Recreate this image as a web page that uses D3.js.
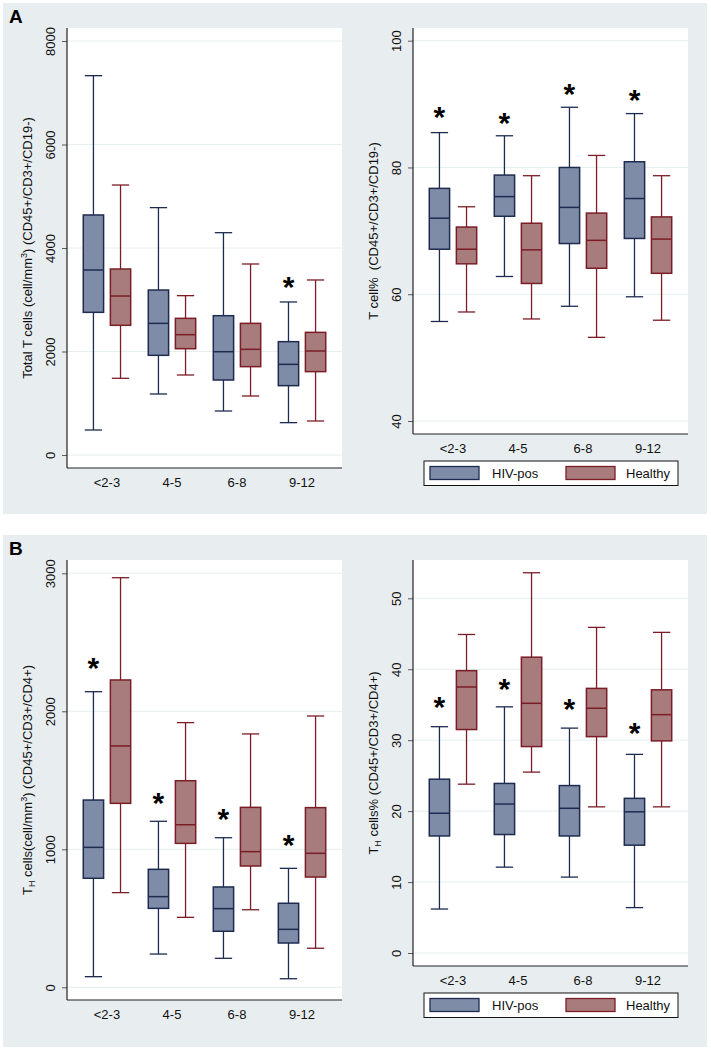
<!DOCTYPE html>
<html><head><meta charset="utf-8">
<script src="https://cdn.jsdelivr.net/npm/d3@7/dist/d3.min.js"></script>
<style>body{margin:0;background:#fff;} text{font-family:"Liberation Sans",Arial,sans-serif;}</style>
</head><body>
<svg id="chart" width="711" height="1050"></svg>
<script>
// ---------- data ----------
const categories = ["<2-3", "4-5", "6-8", "9-12"];
const groups = ["HIV-pos", "Healthy"];

// each entry: [lowerWhisker, Q1, median, Q3, upperWhisker]
const totalT_HIV     = [[483,2757,3575,4638,7330],[1179,1926,2544,3188,4780],[850,1449,1996,2692,4296],[625,1340,1752,2190,2957]];
const totalT_Healthy = [[1482,2506,3072,3594,5217],[1546,2054,2325,2641,3079],[1140,1707,2042,2544,3691],[657,1611,2010,2370,3382]];
const totalT_stars   = [null, null, null, 3324];

const pctT_HIV       = [[55.7,67.1,72.0,76.7,85.5],[62.8,72.3,75.4,78.8,85.0],[58.1,68.0,73.7,80.0,89.5],[59.6,68.8,75.1,80.9,88.5]];
const pctT_Healthy   = [[57.2,64.8,67.1,70.6,73.8],[56.1,61.7,67.0,71.2,78.7],[53.2,64.1,68.5,72.8,81.9],[55.9,63.3,68.7,72.2,78.7]];
const pctT_stars     = [88.7, 87.7, 92.3, 91.3];

const th_HIV         = [[77,790,1014,1357,2142],[241,572,657,855,1203],[210,406,570,727,1084],[62,321,420,609,862]];
const th_Healthy     = [[686,1333,1749,2227,2968],[507,1043,1178,1497,1918],[562,879,983,1304,1836],[283,799,971,1302,1966]];
const th_stars       = [2343, 1365, 1249, 1061];

const pctTH_HIV      = [[6.2,16.5,19.7,24.5,31.9],[12.1,16.7,21.0,23.9,34.7],[10.7,16.5,20.4,23.6,31.7],[6.4,15.2,19.9,21.8,28.0]];
const pctTH_Healthy  = [[23.8,31.5,37.5,39.8,44.9],[25.5,29.1,35.2,41.7,53.6],[20.6,30.5,34.5,37.3,45.9],[20.6,29.9,33.6,37.1,45.2]];
const pctTH_stars    = [35.3, 37.9, 35.1, 31.6];

const ticksTotalT = [0, 2000, 4000, 6000, 8000];
const ticksPctT   = [40, 60, 80, 100];
const ticksTH     = [0, 1000, 2000, 3000];
const ticksPctTH  = [0, 10, 20, 30, 40, 50];

// ---------- styles ----------
const fills   = {"HIV-pos": "#7f8ca7", "Healthy": "#a87b7d"};
const strokes = {"HIV-pos": "#1e2b50", "Healthy": "#7a1d26"};
const panelBg = "#e8edf0";
const gridCol = "#e6eef0";

const svg = d3.select("#chart");

// panel backgrounds
svg.append("rect").attr("x",3).attr("y",3).attr("width",704).attr("height",511).attr("fill",panelBg);
svg.append("rect").attr("x",3).attr("y",535).attr("width",704).attr("height",512).attr("fill",panelBg);
svg.append("text").attr("x",9).attr("y",23).attr("font-size",19).attr("font-weight","bold").text("A");
svg.append("text").attr("x",9).attr("y",555).attr("font-size",19).attr("font-weight","bold").text("B");

function drawPlot(cfg) {
  const g = svg.append("g");
  const {left, right, top, bottom} = cfg.area;
  g.append("rect").attr("x",left).attr("y",top).attr("width",right-left).attr("height",bottom-top).attr("fill","#fff");

  const y = d3.scaleLinear().domain(cfg.domain).range(cfg.yRange);
  const x = d3.scaleBand().domain(categories).range([left,right]).paddingInner(0).paddingOuter(0.115);
  const xi = d3.scaleBand().domain(groups).range([0, x.step()]).paddingInner(0).paddingOuter(0.2);
  const bw = xi.step()*0.75;
  const capW = xi.step()*0.64;

  // gridlines
  g.selectAll(".grid").data(cfg.ticks).enter().append("line")
    .attr("x1",left).attr("x2",right).attr("y1",d=>y(d)).attr("y2",d=>y(d))
    .attr("stroke",gridCol).attr("stroke-width",1);

  // y axis
  const yAxis = d3.axisLeft(y).tickValues(cfg.ticks).tickSize(5).tickFormat(d3.format("d"));
  const ag = g.append("g").attr("transform",`translate(${left},0)`).call(yAxis);
  ag.select(".domain").remove();
  ag.selectAll(".tick line").attr("stroke","#333").attr("stroke-width",0.8);
  ag.selectAll(".tick text").attr("font-size",13).attr("fill","#111")
    .attr("transform","rotate(-90)").attr("x",0).attr("y",-12).attr("dy",0)
    .attr("text-anchor","middle").attr("font-family","'Liberation Sans',Arial,sans-serif");
  g.append("line").attr("x1",left).attr("x2",left).attr("y1",top).attr("y2",bottom).attr("stroke","#222").attr("stroke-width",1.2);
  g.append("line").attr("x1",left).attr("x2",right).attr("y1",bottom).attr("y2",bottom).attr("stroke","#222").attr("stroke-width",1.2);

  // x labels
  g.selectAll(".xl").data(categories).enter().append("text")
    .attr("x",d=>x(d)+x.step()/2).attr("y",bottom+18.5).attr("text-anchor","middle")
    .attr("font-size",13).attr("fill","#111").text(d=>d);

  // y title
  const yt = g.append("text").attr("transform",`translate(${left-35},${(top+bottom)/2}) rotate(-90)`)
    .attr("text-anchor","middle").attr("font-size",13).attr("fill","#111");
  cfg.title(yt);

  // boxes
  const series = [["HIV-pos", cfg.hiv], ["Healthy", cfg.healthy]];
  series.forEach(([name, vals]) => {
    vals.forEach((v, i) => {
      const cx = x(categories[i]) + xi(name) + xi.step()/2;
      const [lo, q1, med, q3, hi] = v;
      const col = strokes[name];
      g.append("line").attr("x1",cx).attr("x2",cx).attr("y1",y(hi)).attr("y2",y(q3)).attr("stroke",col).attr("stroke-width",1.3);
      g.append("line").attr("x1",cx).attr("x2",cx).attr("y1",y(q1)).attr("y2",y(lo)).attr("stroke",col).attr("stroke-width",1.3);
      g.append("line").attr("x1",cx-capW/2).attr("x2",cx+capW/2).attr("y1",y(hi)).attr("y2",y(hi)).attr("stroke",col).attr("stroke-width",1.3);
      g.append("line").attr("x1",cx-capW/2).attr("x2",cx+capW/2).attr("y1",y(lo)).attr("y2",y(lo)).attr("stroke",col).attr("stroke-width",1.3);
      g.append("rect").attr("x",cx-bw/2).attr("y",y(q3)).attr("width",bw).attr("height",y(q1)-y(q3))
        .attr("fill",fills[name]).attr("stroke",col).attr("stroke-width",1.5);
      g.append("line").attr("x1",cx-bw/2).attr("x2",cx+bw/2).attr("y1",y(med)).attr("y2",y(med)).attr("stroke",col).attr("stroke-width",1.5);
    });
  });

  // stars
  cfg.stars.forEach((s, i) => {
    if (s === null) return;
    const cx = x(categories[i]) + xi("HIV-pos") + xi.step()/2;
    g.append("text").attr("x",cx).attr("y",y(s)+14.5).attr("text-anchor","middle")
      .attr("font-size",30).attr("font-weight","bold").attr("fill","#000").text("*");
  });

  // legend
  if (cfg.legend) {
    const L = cfg.legend;
    g.append("rect").attr("x",L.x).attr("y",L.y).attr("width",254).attr("height",24.5).attr("fill","#fff").attr("stroke","#111").attr("stroke-width",1);
    const offs = [[6, 68], [142, 202]];
    groups.forEach((name, k) => {
      g.append("rect").attr("x",L.x+offs[k][0]).attr("y",L.y+5.5).attr("width",49).attr("height",13)
        .attr("fill",fills[name]).attr("stroke",strokes[name]).attr("stroke-width",1.3);
      g.append("text").attr("x",L.x+offs[k][1]).attr("y",L.y+17).attr("font-size",13).attr("fill","#111").text(name);
    });
  }
}

drawPlot({
  area:{left:67,right:342,top:28,bottom:468}, domain:[0,8000], yRange:[455,41], ticks:ticksTotalT,
  hiv:totalT_HIV, healthy:totalT_Healthy, stars:totalT_stars,
  title: t => { t.append("tspan").text("Total T cells (cell/mm");
                t.append("tspan").attr("dy",-5).attr("font-size",9).text("3");
                t.append("tspan").attr("dy",5).text(") (CD45+/CD3+/CD19-)"); }
});
drawPlot({
  area:{left:413,right:688,top:28,bottom:434}, domain:[40,100], yRange:[421,40.7], ticks:ticksPctT,
  hiv:pctT_HIV, healthy:pctT_Healthy, stars:pctT_stars,
  title: t => { t.append("tspan").text("T cell%\u00a0\u00a0(CD45+/CD3+/CD19-)"); },
  legend:{x:424, y:461}
});
drawPlot({
  area:{left:67,right:342,top:560,bottom:1000}, domain:[0,3000], yRange:[987.3,573.3], ticks:ticksTH,
  hiv:th_HIV, healthy:th_Healthy, stars:th_stars,
  title: t => { t.append("tspan").text("T");
                t.append("tspan").attr("dy",3).attr("font-size",9).text("H");
                t.append("tspan").attr("dy",-3).text(" cells(cell/mm");
                t.append("tspan").attr("dy",-5).attr("font-size",9).text("3");
                t.append("tspan").attr("dy",5).text(") (CD45+/CD3+/CD4+)"); }
});
drawPlot({
  area:{left:413,right:688,top:560,bottom:966}, domain:[0,50], yRange:[953,598.3], ticks:ticksPctTH,
  hiv:pctTH_HIV, healthy:pctTH_Healthy, stars:pctTH_stars,
  title: t => { t.append("tspan").text("T");
                t.append("tspan").attr("dy",3).attr("font-size",9).text("H");
                t.append("tspan").attr("dy",-3).text(" cells% (CD45+/CD3+/CD4+)"); },
  legend:{x:424, y:993}
});
</script>
</body></html>
